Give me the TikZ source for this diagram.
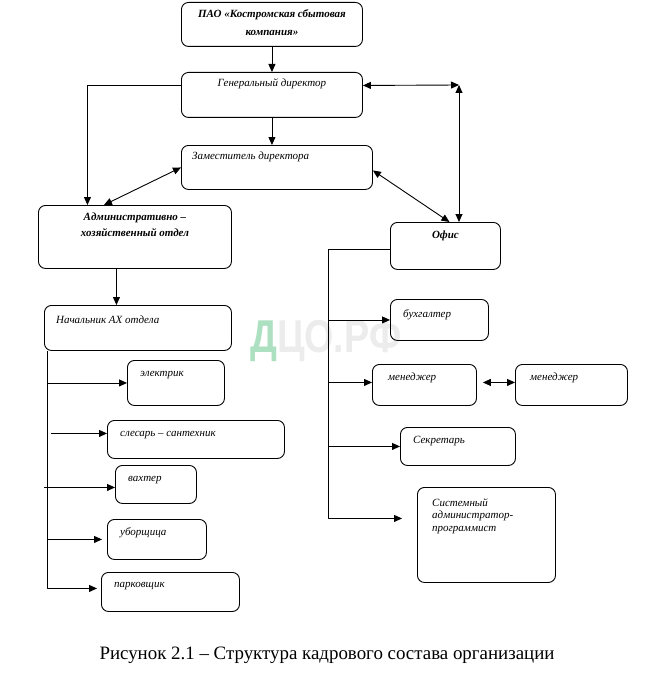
\documentclass[tikz,border=0pt]{standalone}
\usepackage{fontspec}
\setmainfont{Liberation Serif}
\newfontfamily\wmfont{Liberation Sans}
\usetikzlibrary{arrows.meta}
\definecolor{wmgreen}{RGB}{172,224,192}
\begin{document}
\begin{tikzpicture}[x=1pt, y=-1pt, line join=round,
		box/.style={draw, line width=0.9pt, rounded corners=7pt, anchor=north west, inner sep=0pt},
		txt/.style={font=\itshape\fontsize{11}{13}\selectfont, inner sep=0pt},
		btxt/.style={font=\bfseries\itshape\fontsize{11}{13}\selectfont, inner sep=0pt},
		conn/.style={line width=0.9pt},
		arr/.style={conn, -{Triangle[length=8pt,width=7pt]}},
		darr/.style={conn, {Triangle[length=8pt,width=7pt]}-{Triangle[length=8pt,width=7pt]}}]
		\useasboundingbox[fill=white] (0,0) rectangle (660,682);
		% Watermark
		\node[inner sep=0pt, anchor=west, font=\wmfont\bfseries\fontsize{46}{46}\selectfont, xscale=0.82, transform shape] (wm) at (250,341) {\textcolor{wmgreen}{Д}\textcolor{gray!15}{ЦО.РФ}};
		% Top of the structure
		\node[box, minimum width=181, minimum height=44] (pao) at (181,2) {};
		\node[box, minimum width=181, minimum height=45] (gen) at (181,72) {};
		\node[box, minimum width=191, minimum height=44] (zam) at (181,145) {};
		\node[btxt, align=center, font=\bfseries\itshape\fontsize{11}{18}\selectfont] (pao text) at ([yshift=-21pt]pao.north) {ПАО «Костромская сбытовая\\компания»};
		\node[txt] (gen text) at ([yshift=-12pt]gen.north) {Генеральный директор};
		\node[txt, anchor=west] (zam text) at ([xshift=11pt,yshift=-12pt]zam.north west) {Заместитель директора};
		% Administrative branch
		\node[box, minimum width=193, minimum height=63] (ahc) at (38,205) {};
		\node[btxt, align=center, font=\bfseries\itshape\fontsize{11}{16}\selectfont] (ahc text) at ([yshift=-20pt]ahc.north) {Административно –\\хозяйственный отдел};
		\node[box, minimum width=187, minimum height=45] (nach) at (44,305) {};
		\node[txt, anchor=west] (nach text) at ([xshift=12pt,yshift=-15pt]nach.north west) {Начальник АХ отдела};
		\node[box, minimum width=97, minimum height=45] (elek) at (127,360) {};
		\node[txt, anchor=west] (elek text) at ([xshift=13pt,yshift=-15pt]elek.north west) {электрик};
		\node[box, minimum width=177, minimum height=38] (sles) at (107,420) {};
		\node[txt, anchor=west] (sles text) at ([xshift=13pt,yshift=-15pt]sles.north west) {слесарь – сантехник};
		\node[box, minimum width=81, minimum height=38] (vakh) at (115,465) {};
		\node[txt, anchor=west] (vakh text) at ([xshift=13pt,yshift=-15pt]vakh.north west) {вахтер};
		\node[box, minimum width=99, minimum height=40] (ubor) at (107,519) {};
		\node[txt, anchor=west] (ubor text) at ([xshift=13pt,yshift=-14pt]ubor.north west) {уборщица};
		\node[box, minimum width=138, minimum height=39] (park) at (101,572) {};
		\node[txt, anchor=west] (park text) at ([xshift=13pt,yshift=-14pt]park.north west) {парковщик};
		% Office branch
		\node[box, minimum width=110, minimum height=47] (ofis) at (390,222) {};
		\node[btxt] (ofis text) at ([yshift=-14pt]ofis.north) {Офис};
		\node[box, minimum width=98, minimum height=41] (bukh) at (390,299) {};
		\node[txt, anchor=west] (bukh text) at ([xshift=13pt,yshift=-16pt]bukh.north west) {бухгалтер};
		\node[box, minimum width=104, minimum height=41] (men1) at (372,364) {};
		\node[txt, anchor=west] (men1 text) at ([xshift=16pt,yshift=-14pt]men1.north west) {менеджер};
		\node[box, minimum width=112, minimum height=41] (men2) at (515,364) {};
		\node[txt, anchor=west] (men2 text) at ([xshift=15pt,yshift=-14pt]men2.north west) {менеджер};
		\node[box, minimum width=115, minimum height=38] (sekr) at (400,427) {};
		\node[txt, anchor=west] (sekr text) at ([xshift=13pt,yshift=-14pt]sekr.north west) {Секретарь};
		\node[box, minimum width=138, minimum height=95] (sys) at (417,487) {};
		\node[txt, anchor=north west, align=left, font=\itshape\fontsize{11}{12.5}\selectfont] (sys text) at ([xshift=15pt,yshift=-11pt]sys.north west) {Системный\\администратор-\\программист};
		% Connectors between the top boxes
		\coordinate (corner) at (459,85);
		\draw[arr] (pao.south) -- (gen.north);
		\draw[arr] (gen.south) -- (gen.south |- zam.north);
		\draw[arr] ([yshift=9.5pt]gen.west) -| ([xshift=-47.5pt]ahc.north);
		\draw[darr] (zam.west) -- ([xshift=-31pt]ahc.north);
		\draw[darr] ([yshift=9.5pt]gen.east) -- (corner);
		\draw[darr] (corner) -- (corner |- ofis.north);
		\draw[darr] ([yshift=-3pt]zam.east) -- ([xshift=4pt]ofis.north);
		\draw[arr] ([xshift=-18.5pt]ahc.south) -- ([xshift=-18.5pt]ahc.south |- nach.north);
		% Left trunk
		\coordinate (ltrunk) at ([xshift=3pt]nach.south west);
		\draw[arr, shorten >=4pt] (ltrunk) |- ([yshift=3.5pt]park.west);
		\draw[arr] (ltrunk |- elek.west) -- (elek.west);
		\draw[arr] ([xshift=4pt,yshift=6pt]ltrunk |- sles.west) -- ([yshift=6pt]sles.west);
		\draw[arr] ([xshift=-3pt,yshift=-3pt]ltrunk |- vakh.west) -- ([yshift=-3pt]vakh.west);
		\draw[arr, shorten >=5pt] (ltrunk |- ubor.west) -- (ubor.west);
		% Right trunk
		\coordinate (rtrunk) at ([xshift=-62pt,yshift=-3.5pt]ofis.west);
		\draw[arr, shorten >=15pt] ([yshift=-3.5pt]ofis.west) -- (rtrunk) |- ([yshift=16.5pt]sys.west);
		\draw[arr] (rtrunk |- bukh.west) -- (bukh.west);
		\draw[arr] ([yshift=2.5pt]rtrunk |- men1.west) -- ([yshift=2.5pt]men1.west);
		\draw[arr] (rtrunk |- sekr.west) -- (sekr.west);
		\draw[darr, shorten <=6pt] ([yshift=2.5pt]men1.east) -- ([yshift=2.5pt]men2.west);
		% Caption
		\node[font=\fontsize{18.9}{20}\selectfont, inner sep=0pt] (caption) at (327,655) {Рисунок 2.1 – Структура кадрового состава организации};
\end{tikzpicture}
\end{document}
